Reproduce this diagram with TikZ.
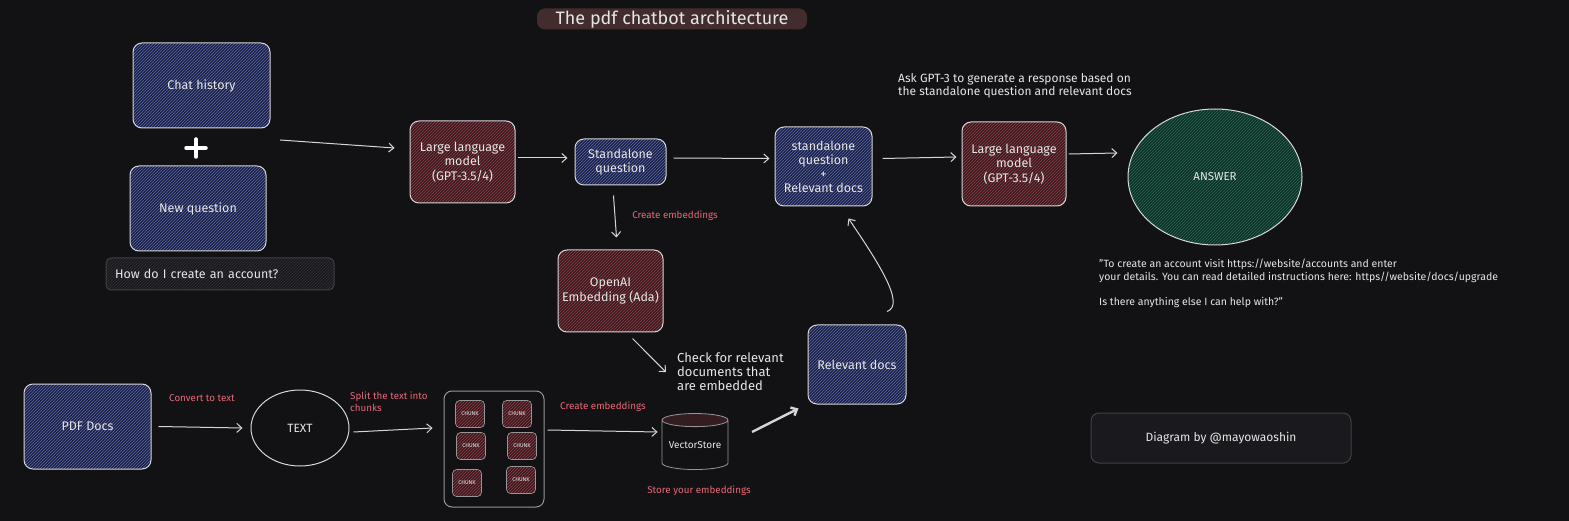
\documentclass[tikz,border=0pt]{standalone}
\usepackage{fontspec}
\setmainfont{Fira Sans}
\usepackage{tikz}
\usetikzlibrary{arrows.meta,patterns,shapes.geometric}

\definecolor{bgc}{RGB}{18,18,20}
\definecolor{edgec}{RGB}{214,214,214}
\definecolor{inkc}{RGB}{230,230,230}
\definecolor{pinkc}{RGB}{232,104,120}
\definecolor{bluebg}{RGB}{30,33,62}
\definecolor{blueln}{RGB}{88,104,180}
\definecolor{redbg}{RGB}{52,28,32}
\definecolor{redln}{RGB}{150,62,72}
\definecolor{greenbg}{RGB}{16,46,39}
\definecolor{greenln}{RGB}{38,108,86}
\definecolor{titlebg}{RGB}{66,44,46}
\definecolor{askbg}{RGB}{26,26,30}
\definecolor{askln}{RGB}{48,48,54}
\definecolor{greyc}{RGB}{150,150,152}
\definecolor{creditc}{RGB}{64,64,68}

\tikzstyle{box}=[rectangle,rounded corners=9pt,draw=edgec,line width=1pt,
                 text=inkc,align=center,font=\fontsize{12.5}{14.5}\selectfont]
\tikzstyle{bluebox}=[box,preaction={fill=bluebg},
                     pattern=north east lines,pattern color=blueln]
\tikzstyle{redbox}=[box,preaction={fill=redbg},
                    pattern=north east lines,pattern color=redln]
\tikzstyle{chunkbox}=[rectangle,rounded corners=4pt,draw=greyc,line width=0.6pt,
                      preaction={fill=redbg},pattern=north east lines,pattern color=redln,
                      text=inkc,font=\fontsize{5.5}{6}\selectfont,inner sep=0pt,
                      minimum width=29pt,minimum height=27pt]
\tikzstyle{note}=[text=pinkc,font=\fontsize{9.8}{11.5}\selectfont,inner sep=0pt,align=left]
\tikzstyle{remark}=[text=inkc,font=\fontsize{12.5}{13.5}\selectfont,inner sep=0pt,align=left]
\tikzstyle{arr}=[draw=edgec,line width=1pt,-{Straight Barb[length=5pt,width=9pt]}]

\begin{document}
\begin{tikzpicture}[x=1pt,y=-1pt]
  \fill[bgc] (0,0) rectangle (1569,521);
  \useasboundingbox (0,0) rectangle (1569,521);

  % title
  \node (ttl) at (672,19) [fill=titlebg,rounded corners=8pt,minimum width=270pt,
        minimum height=21pt,inner sep=0pt,text=inkc,font=\fontsize{18}{19}\selectfont]
        {The pdf chatbot architecture};

  % question side
  \node (hist) at (201.5,85.5) [bluebox,minimum width=137pt,minimum height=85pt]{Chat history};
  \draw[white,line width=3.5pt,line cap=round] (186,148) -- (206,148) (196,139) -- (196,157);
  \node (newq) at (198,208.5) [bluebox,minimum width=136pt,minimum height=85pt]{New question};
  \node (ask) at (220,274) [rectangle,rounded corners=5pt,draw=creditc,line width=1pt,
        preaction={fill=askbg},pattern=north east lines,pattern color=askln,
        text width=210pt,inner xsep=9pt,minimum height=32pt,align=left,text=inkc,
        font=\fontsize{12.5}{14}\selectfont]{How do I create an account?};
  \coordinate (hq) at (280,140);

  \node (llm1) at (462.5,162) [redbox,minimum width=105pt,minimum height=82pt]
        {Large language\\model\\(GPT-3.5/4)};
  \node (sq) at (620.5,162) [bluebox,minimum width=91pt,minimum height=46pt]
        {Standalone\\question};
  \node (cmb) at (823.5,166.5) [bluebox,minimum width=97pt,minimum height=79pt,
        font=\fontsize{12.5}{14}\selectfont]
        {standalone\\question\\+\\Relevant docs};
  \node (llm2) at (1014,164) [redbox,minimum width=104pt,minimum height=84pt]
        {Large language\\model\\(GPT-3.5/4)};
  \node (ans) at (1215,177) [ellipse,draw=edgec,line width=1pt,preaction={fill=greenbg},
        pattern=north east lines,pattern color=greenln,minimum width=174pt,
        minimum height=136pt,text=inkc,font=\fontsize{11.5}{13}\selectfont]{ANSWER};
  \node (gen) at (898,73) [remark,anchor=north west,font=\fontsize{12}{13.5}\selectfont]
        {Ask GPT-3 to generate a response based on\\the standalone question and relevant docs};
  \node (reply) at (1099,259) [remark,anchor=north west,font=\fontsize{10.5}{13}\selectfont]
        {"To create an account visit https://website/accounts and enter\\
         your details. You can read detailed instructions here: https//website/docs/upgrade\\[12pt]
         Is there anything else I can help with?"};

  \node (emb1) at (675,216) [note]{Create embeddings};
  \node (oai) at (610.5,291) [redbox,minimum width=105pt,minimum height=82pt]
        {OpenAI\\Embedding (Ada)};
  \node (chk) at (677,353) [remark,anchor=north west,font=\fontsize{13}{14}\selectfont]
        {Check for relevant\\documents that\\are embedded};
  \node (rd) at (857,364.5) [bluebox,minimum width=98pt,minimum height=79pt]{Relevant docs};

  % ingestion side
  \node (pdf) at (87.5,426.5) [bluebox,minimum width=127pt,minimum height=85pt]{PDF Docs};
  \node (conv) at (169,394) [note,anchor=north west]{Convert to text};
  \node (txt) at (300,428) [ellipse,draw=edgec,line width=1pt,minimum width=98pt,
        minimum height=76pt,text=inkc,font=\fontsize{12}{13}\selectfont]{TEXT};
  \node (split) at (350,392) [note,anchor=north west]{Split the text into\\chunks};
  \node (pile) at (494,449) [rectangle,rounded corners=8pt,draw=greyc,line width=1pt,
        minimum width=100pt,minimum height=116pt]{};
  \node (k1) at (470,414) [chunkbox]{CHUNK};
  \node (k2) at (517,414) [chunkbox]{CHUNK};
  \node (k3) at (471,446) [chunkbox]{CHUNK};
  \node (k4) at (522,446) [chunkbox]{CHUNK};
  \node (k5) at (467,483) [chunkbox]{CHUNK};
  \node (k6) at (521,480) [chunkbox]{CHUNK};
  \node (emb2) at (560,402) [note,anchor=north west]{Create embeddings};
  \node (vs) at (695,445) [cylinder,shape border rotate=90,aspect=0.25,draw=greyc,
        line width=0.8pt,cylinder uses custom fill,cylinder body fill=bgc,
        cylinder end fill=redbg,minimum width=66pt,minimum height=56pt,inner sep=0pt,
        text=inkc,font=\fontsize{10}{11}\selectfont]{\raisebox{-6pt}{VectorStore}};
  \node (keep) at (699,491) [note]{Store your embeddings};
  \node (cred) at (1221,438) [rectangle,rounded corners=8pt,draw=creditc,line width=1pt,
        fill=askbg,minimum width=260pt,minimum height=50pt,text=inkc,
        font=\fontsize{12}{13}\selectfont]{Diagram by @mayowaoshin};

  % connectors
  \draw[arr] (hq) -- ([xshift=-15pt,yshift=14pt]llm1.west);
  \draw[arr] ([xshift=2pt,yshift=4pt]llm1.east) -- ([xshift=-7pt,yshift=4pt]sq.west);
  \draw[arr] ([xshift=7pt,yshift=4pt]sq.east) -- ([xshift=-5pt,yshift=8pt]cmb.west);
  \draw[arr] ([xshift=10pt,yshift=8pt]cmb.east) -- ([xshift=-5pt,yshift=7pt]llm2.west);
  \draw[arr] ([xshift=2pt,yshift=10pt]llm2.east) -- ([xshift=-10pt,yshift=24pt]ans.west);
  \draw[arr] ([xshift=-7pt,yshift=-10pt]sq.south) -- ([xshift=6pt,yshift=12pt]oai.north);
  \draw[arr] ([xshift=22pt,yshift=-6pt]oai.south) -- ([xshift=-11pt]chk.west);
  \draw[arr] ([xshift=30pt,yshift=13pt]rd.north) .. controls (906,305) and (878,262)
        .. ([xshift=25pt,yshift=-12pt]cmb.south);
  \draw[arr] ([xshift=7pt]pdf.east) -- ([xshift=-8pt]txt.west);
  \draw[arr] ([xshift=4pt,yshift=-4pt]txt.east) -- ([xshift=-11pt,yshift=21pt]pile.west);
  \draw[arr] ([xshift=3pt,yshift=19pt]pile.east) -- ([xshift=-4pt,yshift=13pt]vs.west);
  \draw[arr,line width=2.4pt] ([xshift=57pt,yshift=13pt]vs.center)
        -- ([xshift=-9pt,yshift=-4pt]rd.south west);
\end{tikzpicture}
\end{document}
